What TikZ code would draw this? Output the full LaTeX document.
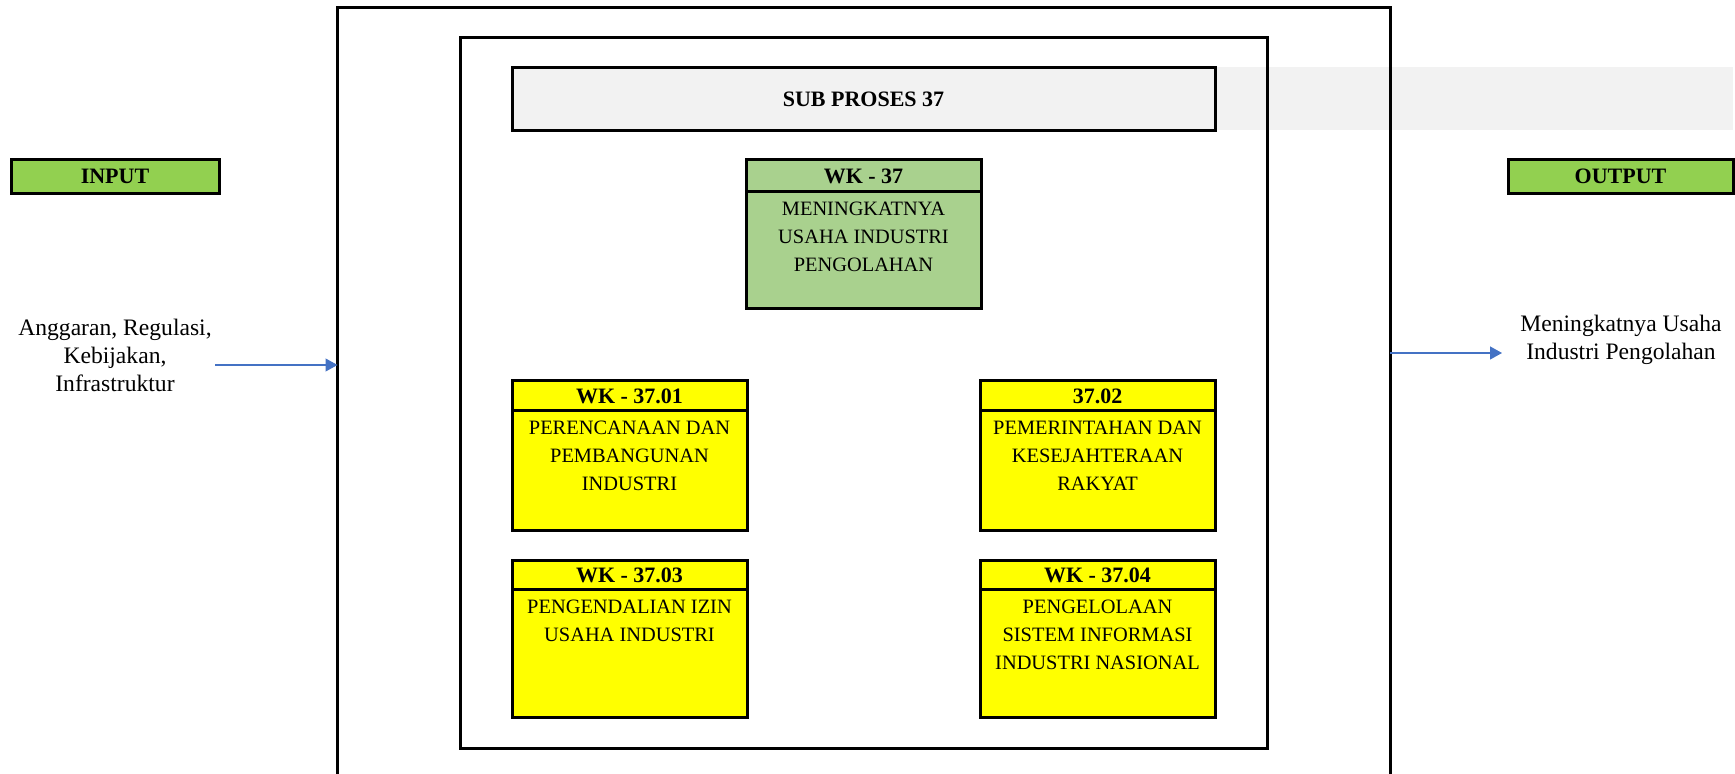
\documentclass[tikz,border=0pt]{standalone}
\usepackage{fontspec}
\setmainfont{Liberation Serif}
\usetikzlibrary{arrows.meta}
\definecolor{ingreen}{HTML}{92D050}
\definecolor{wkgreen}{HTML}{A9D18E}
\definecolor{wkyellow}{HTML}{FFFF00}
\definecolor{subgray}{HTML}{F2F2F2}
\definecolor{arrowblue}{HTML}{4472C4}
\begin{document}
\begin{tikzpicture}[x=0.5pt,y=-0.5pt,
  frame/.style={draw=black, line width=1.5pt, inner sep=0pt, outer sep=0pt, anchor=north west},
  wkbox/.style={frame, minimum width=117.5pt},
  hdr/.style={inner sep=0pt, outer sep=0pt, anchor=north west, minimum width=117.5pt, font=\fontsize{11}{13}\selectfont\bfseries},
  divider/.style={draw=black, line width=1.5pt},
  body/.style={inner sep=0pt, anchor=north, align=center, font=\fontsize{10.2}{14.15}\selectfont},
  side/.style={inner sep=0pt, align=center, font=\fontsize{11.8}{14}\selectfont},
  iolabel/.style={frame, fill=ingreen, minimum height=16.75pt, font=\fontsize{11}{13}\selectfont\bfseries},
  flow/.style={draw=arrowblue, line width=0.6pt, -{Triangle[length=6pt,width=6.5pt]}}
]
\useasboundingbox (0,0) rectangle (1735,774);
% grey band behind
\fill[subgray] (512,67.5) rectangle (1733,130.5);
% outer and inner frames
\node[frame, minimum width=526.25pt, minimum height=396pt] (outer) at (337.5,8) {};
\node[frame, minimum width=403.5pt, minimum height=355.25pt] (inner) at (460,37.5) {};
% sub proses title
\node[frame, fill=subgray, minimum width=351.5pt, minimum height=31.5pt,
      font=\fontsize{11}{13}\selectfont\bfseries] (sub) at (512,67.5) {SUB PROSES 37};
% input / output labels
\node[iolabel, minimum width=104pt] (inlbl) at (11,160) {INPUT};
\node[iolabel, minimum width=112.5pt] (outlbl) at (1508,160) {OUTPUT};
% WK - 37
\node[wkbox, fill=wkgreen, minimum height=74.5pt] (wk) at (746,160) {};
\node[hdr, minimum height=16pt] (wkh) at (wk.north west) {WK - 37};
\draw[divider] (wkh.south west) -- (wkh.south east);
\node[body] (wkt) at ([yshift=-4.7pt]wkh.south) {MENINGKATNYA\\USAHA INDUSTRI\\PENGOLAHAN};
% WK - 37.01
\node[wkbox, fill=wkyellow, minimum height=75pt] (a) at (512,381) {};
\node[hdr, minimum height=15pt] (ah) at (a.north west) {WK - 37.01};
\draw[divider] (ah.south west) -- (ah.south east);
\node[body] (at) at ([yshift=-4.7pt]ah.south) {PERENCANAAN DAN\\PEMBANGUNAN\\INDUSTRI};
% 37.02
\node[wkbox, fill=wkyellow, minimum height=75pt] (b) at (980,381) {};
\node[hdr, minimum height=15pt] (bh) at (b.north west) {37.02};
\draw[divider] (bh.south west) -- (bh.south east);
\node[body] (bt) at ([yshift=-4.7pt]bh.south) {PEMERINTAHAN DAN\\KESEJAHTERAAN\\RAKYAT};
% WK - 37.03
\node[wkbox, fill=wkyellow, minimum height=78pt] (c) at (512,561) {};
\node[hdr, minimum height=14.5pt] (ch) at (c.north west) {WK - 37.03};
\draw[divider] (ch.south west) -- (ch.south east);
\node[body] (ct) at ([yshift=-4.7pt]ch.south) {PENGENDALIAN IZIN\\USAHA INDUSTRI};
% WK - 37.04
\node[wkbox, fill=wkyellow, minimum height=78pt] (d) at (980,561) {};
\node[hdr, minimum height=14.5pt] (dh) at (d.north west) {WK - 37.04};
\draw[divider] (dh.south west) -- (dh.south east);
\node[body] (dt) at ([yshift=-4.7pt]dh.south) {PENGELOLAAN\\SISTEM INFORMASI\\INDUSTRI NASIONAL};
% side texts
\node[side] (intxt) at (115,355) {Anggaran, Regulasi,\\Kebijakan,\\Infrastruktur};
\node[side] (outtxt) at (1621,340) {Meningkatnya Usaha\\Industri Pengolahan};
% arrows
\coordinate (inStart) at (215,365);
\coordinate (outEnd) at (1502,353);
\draw[flow] (inStart) -- (outer.west |- inStart);
\draw[flow] (outer.east |- outEnd) -- (outEnd);
\end{tikzpicture}
\end{document}
